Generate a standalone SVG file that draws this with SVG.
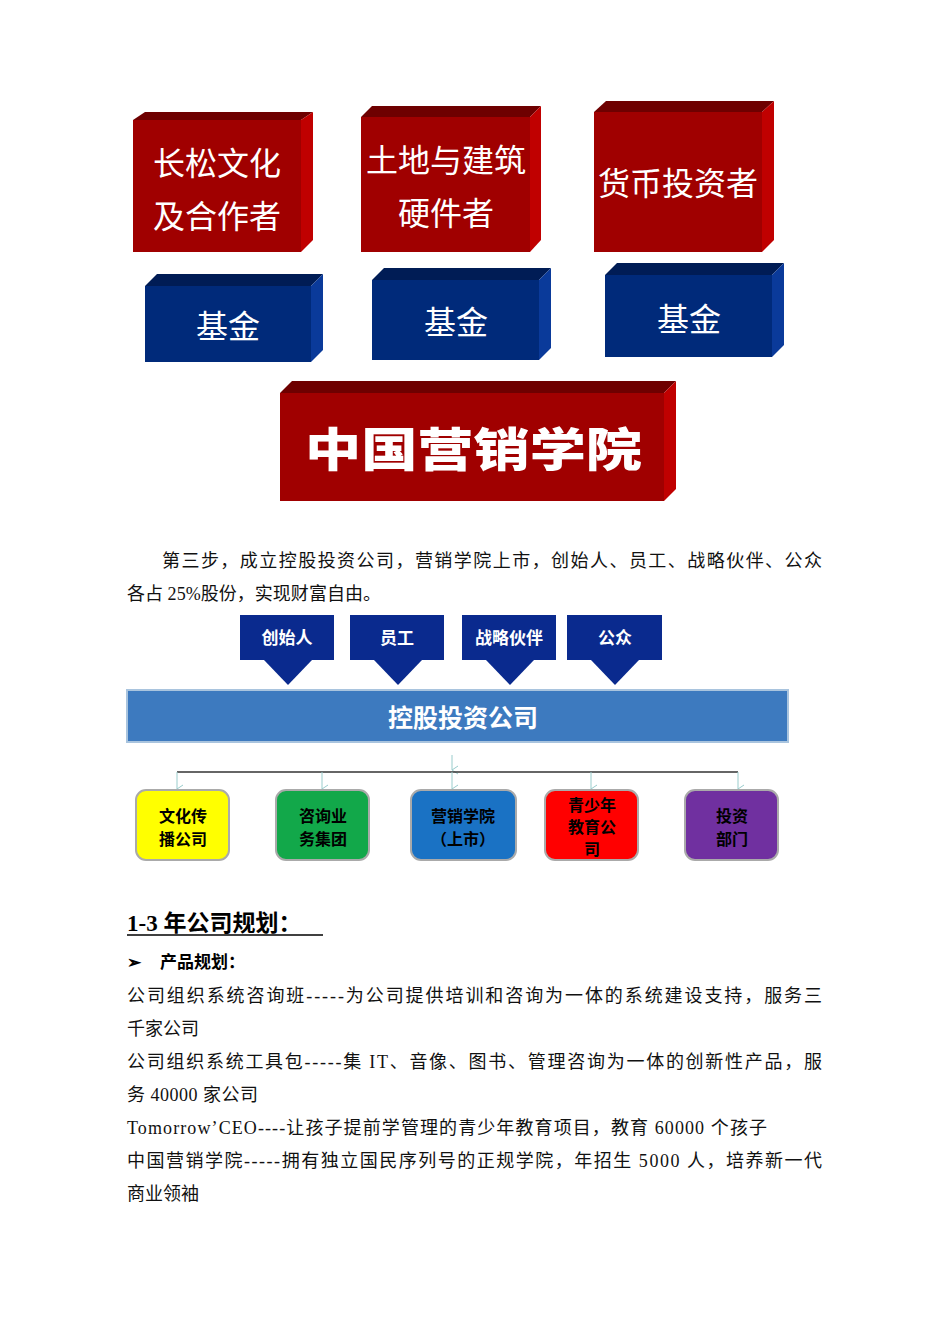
<svg xmlns="http://www.w3.org/2000/svg" width="950" height="1344" viewBox="0 0 950 1344">
<style>
.rf{fill:#a00000}.rt{fill:#6e0000}.rs{fill:#c00000}
.bf{fill:#002a7a}.bt{fill:#001c55}.bs{fill:#0a3a9a}
.wt{font-family:"Noto Sans CJK SC",sans-serif;fill:#fff;text-anchor:middle}
.body{font-family:"Liberation Serif","Noto Sans CJK SC",serif;font-size:18px;fill:#111}
.ab{fill:#0a2a8e}
.cb{stroke:#aaa;stroke-width:2}
.ct{font-family:"Noto Sans CJK SC",sans-serif;font-weight:bold;font-size:16px;text-anchor:middle;fill:#000}
.ln{stroke:#9cc;stroke-width:1;fill:none}
</style>
<defs><marker id="m" markerWidth="10" markerHeight="10" refX="5" refY="8" orient="auto" markerUnits="userSpaceOnUse"><path d="M1,2 L5,8 L9,2" fill="none" stroke="#9cc"/></marker></defs>
<rect width="950" height="1344" fill="#fff"/>
<g id="r1"><polygon class="rt" points="133,120 145,112 313,112 301,120"/><polygon class="rs" points="301,120 313,112 313,240 301,252"/><rect class="rf" x="133" y="120" width="168" height="132"/><text class="wt" font-size="32" x="217" y="175">长松文化</text><text class="wt" font-size="32" x="217" y="228">及合作者</text></g>
<g id="r2"><polygon class="rt" points="361,117 372,106 541,106 530,117"/><polygon class="rs" points="530,117 541,106 541,240 530,252"/><rect class="rf" x="361" y="117" width="169" height="135"/><text class="wt" font-size="32" x="446" y="172">土地与建筑</text><text class="wt" font-size="32" x="446" y="225">硬件者</text></g>
<g id="r3"><polygon class="rt" points="594,112 606,101 774,101 762,112"/><polygon class="rs" points="762,112 774,101 774,240 762,252"/><rect class="rf" x="594" y="112" width="168" height="140"/><text class="wt" font-size="32" x="678" y="195">货币投资者</text></g>
<g id="b1"><polygon class="bt" points="145,286 157,274 323,274 311,286"/><polygon class="bs" points="311,286 323,274 323,350 311,362"/><rect class="bf" x="145" y="286" width="166" height="76"/><text class="wt" font-size="32" x="228" y="338">基金</text></g>
<g id="b2"><polygon class="bt" points="372,280 384,268 551,268 539,280"/><polygon class="bs" points="539,280 551,268 551,348 539,360"/><rect class="bf" x="372" y="280" width="167" height="80"/><text class="wt" font-size="32" x="456" y="334">基金</text></g>
<g id="b3"><polygon class="bt" points="605,275 617,263 784,263 772,275"/><polygon class="bs" points="772,275 784,263 784,345 772,357"/><rect class="bf" x="605" y="275" width="167" height="82"/><text class="wt" font-size="32" x="689" y="331">基金</text></g>
<g id="big"><polygon class="rt" points="280,393 292,381 676,381 664,393"/><polygon class="rs" points="664,393 676,381 676,489 664,501"/><rect class="rf" x="280" y="393" width="384" height="108"/><text x="305" y="466" font-family="'Noto Sans CJK SC',sans-serif" font-size="46" font-weight="900" fill="#fff" textLength="337" lengthAdjust="spacingAndGlyphs">中国营销学院</text></g>
<text class="body" x="162" y="567" textLength="660">第三步，成立控股投资公司，营销学院上市，创始人、员工、战略伙伴、公众</text>
<text class="body" x="127" y="600" textLength="254">各占 25%股份，实现财富自由。</text>
<g id="a1"><rect class="ab" x="240" y="615" width="94" height="45"/><polygon class="ab" points="264,660 312,660 288,685"/><text class="wt" font-size="17" font-weight="bold" x="287" y="644">创始人</text></g>
<g id="a2"><rect class="ab" x="350" y="615" width="94" height="45"/><polygon class="ab" points="374,660 422,660 398,685"/><text class="wt" font-size="17" font-weight="bold" x="397" y="644">员工</text></g>
<g id="a3"><rect class="ab" x="462" y="615" width="94" height="45"/><polygon class="ab" points="486,660 534,660 510,685"/><text class="wt" font-size="17" font-weight="bold" x="509" y="644">战略伙伴</text></g>
<g id="a4"><rect class="ab" x="567" y="615" width="95" height="45"/><polygon class="ab" points="591,660 639,660 615,685"/><text class="wt" font-size="17" font-weight="bold" x="615" y="644">公众</text></g>
<g id="hold"><rect x="127" y="690" width="661" height="52" fill="#3d7abf" stroke="#a9c4de" stroke-width="2"/><text class="wt" font-size="25" font-weight="bold" x="463" y="727">控股投资公司</text></g>
<g id="connectors">
<line class="ln" x1="452" y1="755" x2="452" y2="770" marker-end="url(#m)"/>
<line x1="177" y1="772" x2="738" y2="772" stroke="#333" stroke-width="1.5"/>
<line class="ln" x1="177" y1="772" x2="177" y2="789" marker-end="url(#m)"/>
<line class="ln" x1="322" y1="772" x2="322" y2="789" marker-end="url(#m)"/>
<line class="ln" x1="452" y1="772" x2="452" y2="789" marker-end="url(#m)"/>
<line class="ln" x1="591" y1="772" x2="591" y2="789" marker-end="url(#m)"/>
<line class="ln" x1="738" y1="772" x2="738" y2="789" marker-end="url(#m)"/>
</g>
<g id="c1"><rect class="cb" x="136" y="790" width="93" height="70" rx="10" fill="#ffff00"/><text class="ct" x="183" y="822">文化传</text><text class="ct" x="183" y="845">播公司</text></g>
<g id="c2"><rect class="cb" x="276" y="790" width="93" height="70" rx="10" fill="#12a84a"/><text class="ct" x="323" y="822">咨询业</text><text class="ct" x="323" y="845">务集团</text></g>
<g id="c3"><rect class="cb" x="411" y="790" width="105" height="70" rx="10" fill="#1a72c4"/><text class="ct" x="463" y="822">营销学院</text><text class="ct" x="463" y="845">（上市）</text></g>
<g id="c4"><rect class="cb" x="545" y="790" width="93" height="70" rx="10" fill="#ff0000"/><text class="ct" x="592" y="811">青少年</text><text class="ct" x="592" y="833">教育公</text><text class="ct" x="592" y="855">司</text></g>
<g id="c5"><rect class="cb" x="685" y="790" width="93" height="70" rx="10" fill="#7030a0"/><text class="ct" x="732" y="822">投资</text><text class="ct" x="732" y="845">部门</text></g>
<text x="127" y="931" font-family="Liberation Serif,'Noto Sans CJK SC',serif" font-size="23" font-weight="bold" fill="#000">1-3 年公司规划：</text>
<line x1="127" y1="935" x2="323" y2="935" stroke="#000" stroke-width="1.5"/>
<text x="127" y="968" font-family="'Noto Sans CJK SC',sans-serif" font-size="17" font-weight="bold" fill="#000">➢<tspan x="160">产品规划：</tspan></text>
<text class="body" x="127" y="1002" textLength="695">公司组织系统咨询班-----为公司提供培训和咨询为一体的系统建设支持，服务三</text>
<text class="body" x="127" y="1035">千家公司</text>
<text class="body" x="127" y="1068" textLength="695">公司组织系统工具包-----集 IT、音像、图书、管理咨询为一体的创新性产品，服</text>
<text class="body" x="127" y="1101" textLength="131">务 40000 家公司</text>
<text class="body" x="127" y="1134" textLength="640">Tomorrow’CEO----让孩子提前学管理的青少年教育项目，教育 60000 个孩子</text>
<text class="body" x="127" y="1167" textLength="695">中国营销学院-----拥有独立国民序列号的正规学院，年招生 5000 人，培养新一代</text>
<text class="body" x="127" y="1200">商业领袖</text>
</svg>
